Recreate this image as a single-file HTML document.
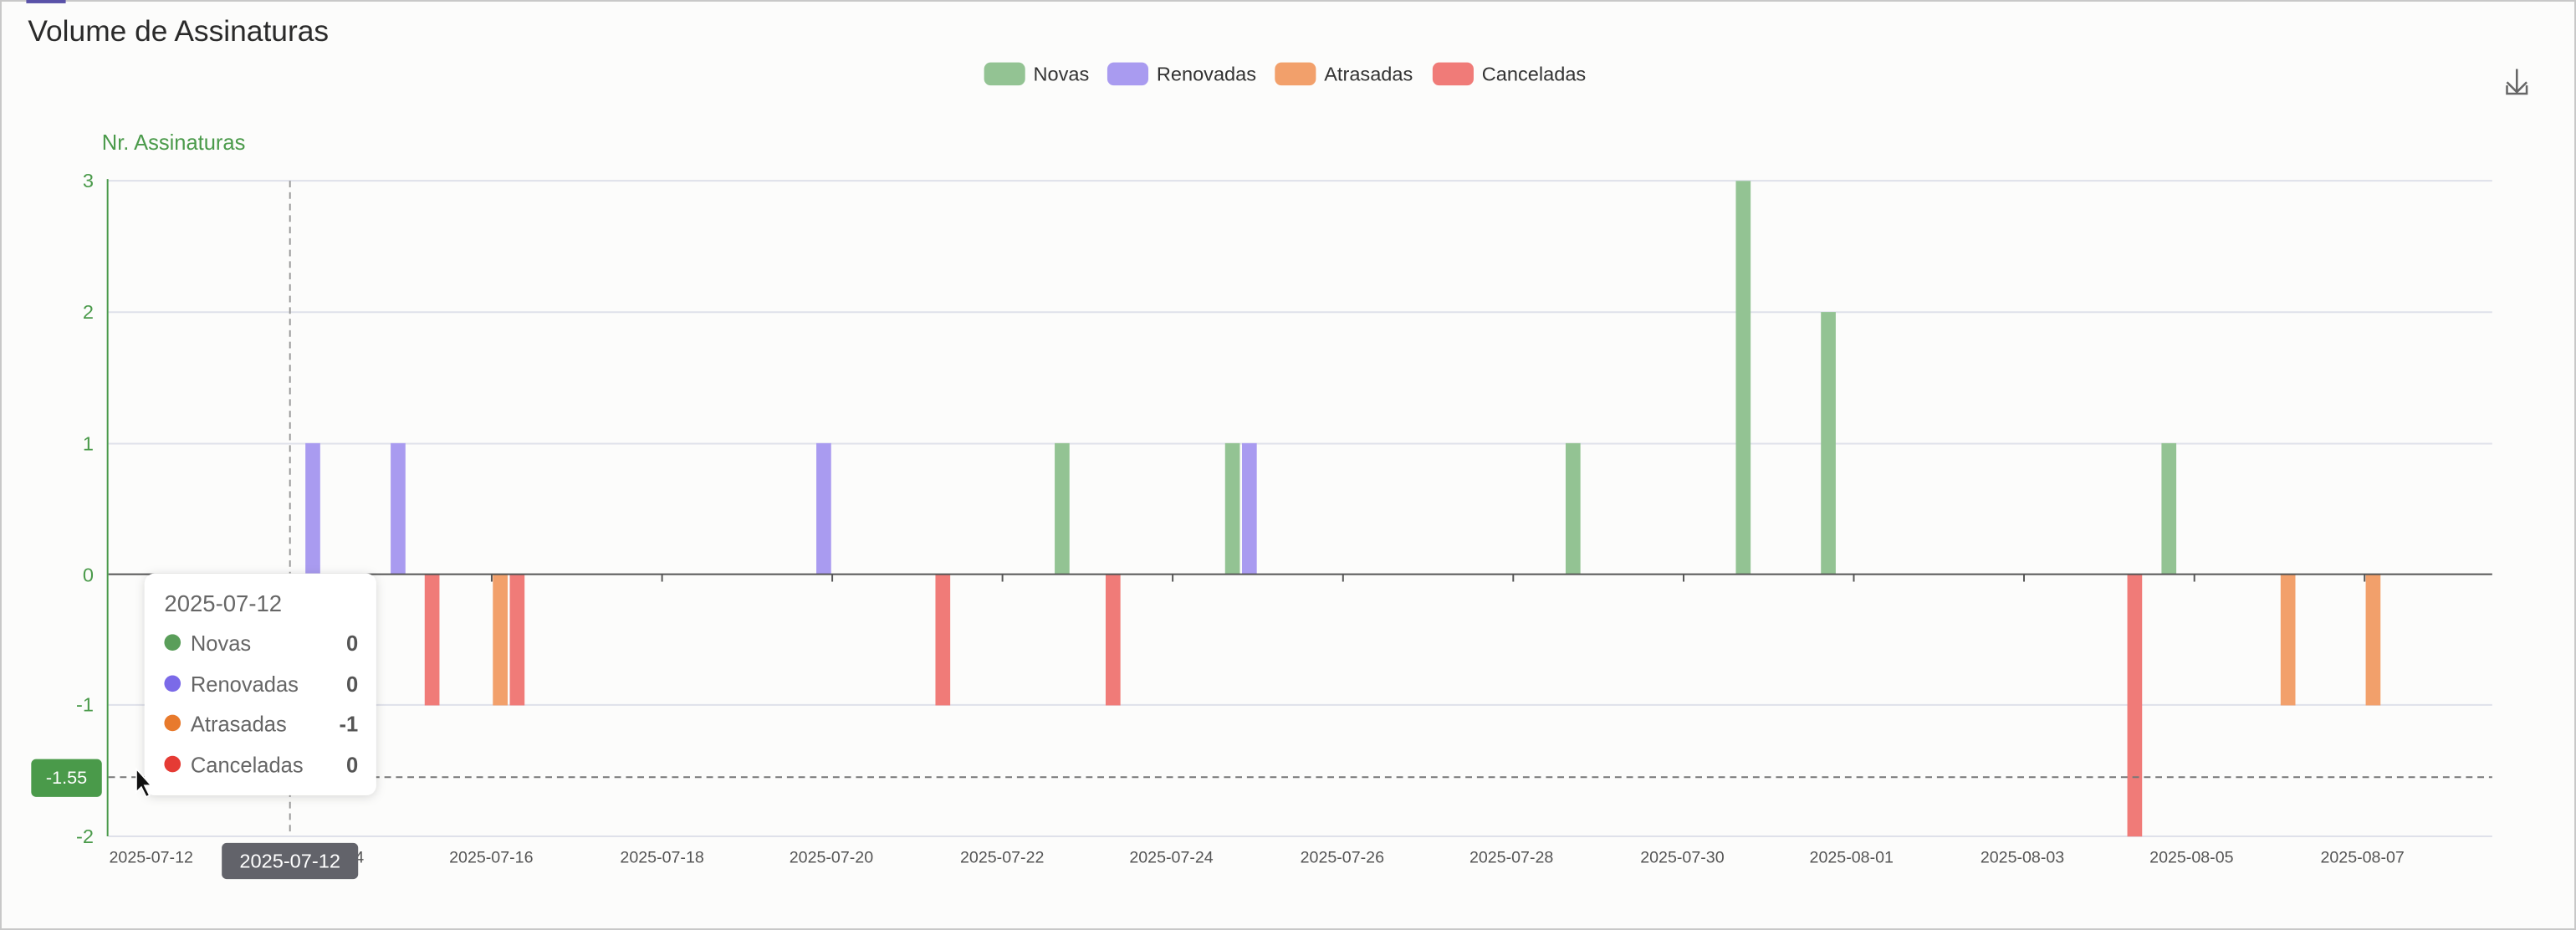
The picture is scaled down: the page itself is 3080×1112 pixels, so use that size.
<!DOCTYPE html>
<html><head><meta charset="utf-8"><style>
html,body{margin:0;padding:0;background:#fcfcfb;}
svg{display:block;font-family:"Liberation Sans",sans-serif;}
</style></head><body>
<svg width="3080" height="1112" viewBox="0 0 1568 566" preserveAspectRatio="none" xmlns="http://www.w3.org/2000/svg">
<rect x="0.5" y="0.5" width="1567" height="565" fill="#fcfcfb" stroke="#c8c8c8"/>
<rect x="16" y="0" width="24" height="2" fill="#5a52a8"/>
<text x="17" y="25" font-size="18" fill="#2a2a2a">Volume de Assinaturas</text>
<g font-size="12" fill="#333">
<rect x="599" y="38" width="25" height="14" rx="4" fill="#93c393"/><text x="629" y="49">Novas</text>
<rect x="674" y="38" width="25" height="14" rx="4" fill="#a99bf0"/><text x="704" y="49">Renovadas</text>
<rect x="776" y="38" width="25" height="14" rx="4" fill="#f2a06b"/><text x="806" y="49">Atrasadas</text>
<rect x="872" y="38" width="25" height="14" rx="4" fill="#f07b78"/><text x="902" y="49">Canceladas</text>
</g>
<g stroke="#666" stroke-width="1.3" fill="none">
<path d="M1532 42V56M1526 50L1532 56L1538 50M1526 52V57H1538V52"/>
</g>
<text x="62" y="91" font-size="13" fill="#4a9a4a">Nr. Assinaturas</text>
<g stroke="#dfe1ea" stroke-width="1">
<line x1="66" y1="110" x2="1517" y2="110"/>
<line x1="66" y1="190" x2="1517" y2="190"/>
<line x1="66" y1="270" x2="1517" y2="270"/>
<line x1="66" y1="429" x2="1517" y2="429"/>
<line x1="66" y1="509" x2="1517" y2="509"/>
</g>
<g font-size="12" fill="#4a9a4a" text-anchor="end">
<text x="57" y="114">3</text><text x="57" y="194">2</text><text x="57" y="274">1</text>
<text x="57" y="354">0</text><text x="57" y="433">-1</text><text x="57" y="513">-2</text>
</g>
<g>
<rect x="185.9" y="269.7" width="9" height="79.8" fill="#a99bf0"/>
<rect x="237.8" y="269.7" width="9" height="79.8" fill="#a99bf0"/>
<rect x="258.5" y="349.5" width="9" height="79.8" fill="#f07b78"/>
<rect x="300" y="349.5" width="9" height="79.8" fill="#f2a06b"/>
<rect x="310.3" y="349.5" width="9" height="79.8" fill="#f07b78"/>
<rect x="496.9" y="269.7" width="9" height="79.8" fill="#a99bf0"/>
<rect x="569.4" y="349.5" width="9" height="79.8" fill="#f07b78"/>
<rect x="642" y="269.7" width="9" height="79.8" fill="#93c393"/>
<rect x="673" y="349.5" width="9" height="79.8" fill="#f07b78"/>
<rect x="745.7" y="269.7" width="9" height="79.8" fill="#93c393"/>
<rect x="756" y="269.7" width="9" height="79.8" fill="#a99bf0"/>
<rect x="953" y="269.7" width="9" height="79.8" fill="#93c393"/>
<rect x="1056.6" y="110.1" width="9" height="239.4" fill="#93c393"/>
<rect x="1108.4" y="189.9" width="9" height="159.6" fill="#93c393"/>
<rect x="1294.9" y="349.5" width="9" height="159.6" fill="#f07b78"/>
<rect x="1315.7" y="269.7" width="9" height="79.8" fill="#93c393"/>
<rect x="1388.2" y="349.5" width="9" height="79.8" fill="#f2a06b"/>
<rect x="1440" y="349.5" width="9" height="79.8" fill="#f2a06b"/>
</g>
<line x1="66" y1="349.5" x2="1517" y2="349.5" stroke="#555" stroke-width="1"/>
<g stroke="#555" stroke-width="1">
<line x1="299.3" y1="349.5" x2="299.3" y2="354"/><line x1="403" y1="349.5" x2="403" y2="354"/>
<line x1="506.6" y1="349.5" x2="506.6" y2="354"/><line x1="610.2" y1="349.5" x2="610.2" y2="354"/>
<line x1="713.8" y1="349.5" x2="713.8" y2="354"/><line x1="817.5" y1="349.5" x2="817.5" y2="354"/>
<line x1="921.1" y1="349.5" x2="921.1" y2="354"/><line x1="1024.8" y1="349.5" x2="1024.8" y2="354"/>
<line x1="1128.4" y1="349.5" x2="1128.4" y2="354"/><line x1="1232" y1="349.5" x2="1232" y2="354"/>
<line x1="1335.7" y1="349.5" x2="1335.7" y2="354"/><line x1="1439.3" y1="349.5" x2="1439.3" y2="354"/>
</g>
<line x1="65.5" y1="109" x2="65.5" y2="509" stroke="#4a9a4a" stroke-width="1"/>
<g font-size="10" fill="#555" text-anchor="middle">
<text x="92" y="525">2025-07-12</text><text x="196" y="525">2025-07-14</text>
<text x="299" y="525">2025-07-16</text><text x="403" y="525">2025-07-18</text>
<text x="506" y="525">2025-07-20</text><text x="610" y="525">2025-07-22</text>
<text x="713" y="525">2025-07-24</text><text x="817" y="525">2025-07-26</text>
<text x="920" y="525">2025-07-28</text><text x="1024" y="525">2025-07-30</text>
<text x="1127" y="525">2025-08-01</text><text x="1231" y="525">2025-08-03</text>
<text x="1334" y="525">2025-08-05</text><text x="1438" y="525">2025-08-07</text>
</g>
<line x1="176.5" y1="110" x2="176.5" y2="509" stroke="#999" stroke-dasharray="4,3"/>
<line x1="66" y1="473" x2="1517" y2="473" stroke="#777" stroke-dasharray="4,3"/>
<rect x="19" y="462" width="43" height="23" rx="3" fill="#4a9a4a"/>
<text x="40.5" y="477" font-size="11" fill="#fff" text-anchor="middle">-1.55</text>
<rect x="135" y="513" width="83" height="22" rx="3" fill="#62636a"/>
<text x="176.5" y="528" font-size="12" fill="#fff" text-anchor="middle">2025-07-12</text>
<defs><filter id="sh" x="-20%" y="-20%" width="140%" height="140%"><feDropShadow dx="0" dy="1" stdDeviation="3" flood-color="#000" flood-opacity="0.15"/></filter></defs>
<rect x="88" y="349" width="141" height="135" rx="6" fill="#fff" filter="url(#sh)"/>
<text x="100" y="372" font-size="14" fill="#666">2025-07-12</text>
<g font-size="13" fill="#666">
<circle cx="105" cy="391" r="5" fill="#5a9e5a"/><text x="116" y="396">Novas</text>
<circle cx="105" cy="416" r="5" fill="#7b6ae8"/><text x="116" y="421">Renovadas</text>
<circle cx="105" cy="440" r="5" fill="#e87a2c"/><text x="116" y="445">Atrasadas</text>
<circle cx="105" cy="465" r="5" fill="#e53b35"/><text x="116" y="470">Canceladas</text>
</g>
<g font-size="13" fill="#555" font-weight="bold" text-anchor="end">
<text x="218" y="396">0</text><text x="218" y="421">0</text><text x="218" y="445">-1</text><text x="218" y="470">0</text>
</g>
<path d="M83 468 L83 482 L86 479 L89 485 L91 484 L88 478 L92 478 Z" fill="#111" stroke="#fff" stroke-width="0.8"/>
</svg>
</body></html>
